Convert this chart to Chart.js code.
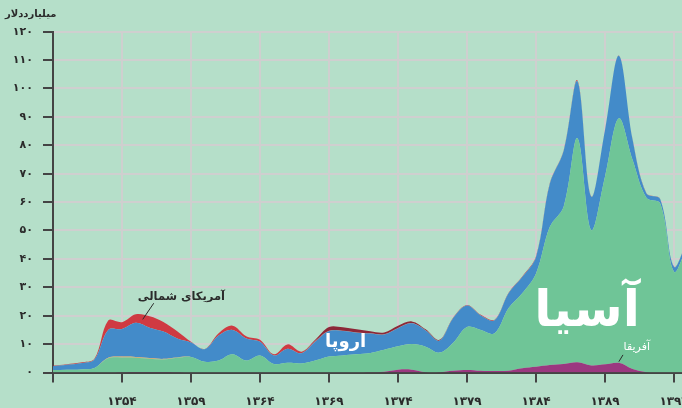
<!DOCTYPE html>
<html lang="fa">
<head>
<meta charset="utf-8">
<script src="https://cdn.jsdelivr.net/npm/chart.js@4.4.1/dist/chart.umd.min.js"></script>
<style>
  html, body { margin: 0; padding: 0; background: #b5dfc9; }
  #wrap { width: 682px; height: 408px; overflow: hidden; }
</style>
</head>
<body>
<div id="wrap"><canvas id="chart" width="720" height="408"></canvas></div>
<script>
// سال‌ها (هجری شمسی)
const years = [1349, 1350, 1351, 1352, 1353, 1354, 1355, 1356, 1357, 1358,
  1359, 1360, 1361, 1362, 1363, 1364, 1365, 1366, 1367, 1368,
  1369, 1370, 1371, 1372, 1373, 1374, 1375, 1376, 1377, 1378,
  1379, 1380, 1381, 1382, 1383, 1384, 1385, 1386, 1387, 1388,
  1389, 1390, 1391, 1392, 1393, 1394, 1395];

// میلیارد دلار، لایه‌ها روی هم
const africa = [0, 0, 0, 0, 0, 0.1, 0.2, 0.2, 0.2, 0.1,
  0, 0, 0, 0, 0, 0, 0, 0, 0, 0,
  0, 0, 0, 0.1, 0.3, 1.0, 1.0, 0.1, 0.1, 0.6,
  0.9, 0.6, 0.5, 0.6, 1.5, 2.0, 2.6, 3.0, 3.6, 2.5,
  2.9, 3.4, 1.2, 0.1, 0, 0, 0];
const asia = [0.9, 1.0, 1.1, 1.6, 5.0, 5.2, 5.0, 4.6, 4.4, 5.1,
  5.5, 3.8, 4.2, 6.4, 4.2, 6.0, 3.0, 3.4, 3.2, 4.2,
  5.6, 6.0, 6.4, 6.8, 7.7, 8.2, 9.0, 9.0, 6.9, 9.9,
  15.1, 14.4, 13.3, 22.0, 26.4, 32.9, 48.7, 55.4, 78.9, 47.7,
  66.1, 86.1, 73.6, 61.4, 59.5, 35.5, 45.0];
const southAmerica = [0, 0, 0, 0, 0.2, 0.3, 0.3, 0.3, 0.2, 0.1,
  0, 0, 0, 0, 0, 0, 0, 0, 0, 0,
  0, 0, 0, 0, 0, 0, 0, 0, 0, 0,
  0, 0, 0, 0, 0, 0, 0, 0, 0, 0,
  0, 0, 0, 0, 0, 0, 0];
const europe = [1.3, 1.7, 2.2, 3.0, 9.8, 9.7, 12.0, 10.7, 9.6, 6.7,
  5.1, 4.4, 8.8, 8.6, 7.8, 4.8, 3.0, 5.0, 3.6, 6.6,
  9.0, 8.6, 7.6, 6.8, 5.4, 6.4, 7.3, 5.7, 4.2, 8.7,
  7.6, 5.1, 4.6, 5.2, 5.7, 5.8, 15.2, 19.6, 20.0, 11.8,
  16.4, 22.0, 7.1, 1.5, 1.5, 1.7, 2.0];
const northAmerica = [0.2, 0.2, 0.2, 0.2, 3.3, 2.4, 3.0, 4.0, 3.4, 2.5,
  0.2, 0.1, 0.8, 1.5, 0.8, 0.7, 0.4, 1.5, 0.5, 0.4,
  0.1, 0.1, 0.1, 0.1, 0.1, 0.1, 0.1, 0.1, 0.1, 0.2,
  0.2, 0.2, 0.2, 0.2, 0.2, 0.2, 0.2, 0.2, 0.3, 0.1,
  0.1, 0.1, 0.1, 0.1, 0.1, 0.1, 0.1];
const other = [0, 0, 0, 0, 0, 0, 0, 0, 0, 0,
  0, 0, 0, 0, 0, 0, 0, 0, 0, 0.3,
  1.3, 1.2, 1.1, 0.7, 0.6, 0.8, 0.6, 0.3, 0.2, 0,
  0, 0, 0, 0, 0, 0, 0, 0, 0, 0,
  0, 0, 0, 0, 0, 0, 0];

const yearTicks = [1349, 1354, 1359, 1364, 1369, 1374, 1379, 1384, 1389, 1394];
const unitLabel = 'میلیارددلار';

const faDigits = ['۰', '۱', '۲', '۳', '۴', '۵', '۶', '۷', '۸', '۹'];
function toFa(n) {
  return String(n).replace(/\d/g, d => faDigits[d]);
}

function series(vals) {
  return years.map((yr, i) => ({ x: yr, y: vals[i] }));
}

const FONT = '"DejaVu Sans", sans-serif';

// برچسب‌های روی نمودار
const notes = [
  { text: 'آسیا', x: 1387.7, y: 21.0, font: 'bold 50px ' + FONT, color: '#ffffff' },
  { text: 'اروپا', x: 1370.2, y: 10.6, font: 'bold 18px ' + FONT, color: '#ffffff' },
  { text: 'آمریکای شمالی', x: 1358.3, y: 26.6, font: 'bold 11.5px ' + FONT, color: '#2b2b2b' },
  { text: 'آفریقا', x: 1391.3, y: 9.0, font: '11px ' + FONT, color: '#ffffff' }
];
const leaders = [
  { from: [1356.3, 24.4], to: [1355.5, 18.7], color: '#2b2b2b' },
  { from: [1390.3, 6.2], to: [1390.0, 3.8], color: '#2b2b2b' }
];

const notesPlugin = {
  id: 'notes',
  afterDatasetsDraw(chart) {
    const ctx = chart.ctx;
    const sx = chart.scales.x, sy = chart.scales.y;
    ctx.save();
    leaders.forEach(l => {
      ctx.strokeStyle = l.color;
      ctx.lineWidth = 1;
      ctx.beginPath();
      ctx.moveTo(sx.getPixelForValue(l.from[0]), sy.getPixelForValue(l.from[1]));
      ctx.lineTo(sx.getPixelForValue(l.to[0]), sy.getPixelForValue(l.to[1]));
      ctx.stroke();
    });
    ctx.textAlign = 'center';
    ctx.textBaseline = 'middle';
    notes.forEach(n => {
      ctx.font = n.font;
      ctx.fillStyle = n.color;
      ctx.fillText(n.text, sx.getPixelForValue(n.x), sy.getPixelForValue(n.y));
    });
    ctx.restore();
  }
};

function layer(label, vals, color, fill) {
  return {
    label: label,
    data: series(vals),
    backgroundColor: color,
    borderColor: color,
    borderWidth: 0,
    pointRadius: 0,
    fill: fill,
    tension: 0.35
  };
}

const config = {
  type: 'line',
  data: {
    datasets: [
      layer('آفریقا', africa, '#9b3880', 'origin'),
      layer('آسیا', asia, '#6fc597', '-1'),
      layer('آمریکای جنوبی', southAmerica, '#e6a064', '-1'),
      layer('اروپا', europe, '#438bc9', '-1'),
      layer('آمریکای شمالی', northAmerica, '#cf3a42', '-1'),
      layer('سایر', other, '#8c2838', '-1')
    ]
  },
  options: {
    responsive: false,
    animation: false,
    layout: { padding: { left: 5, right: 0, top: 0, bottom: 0 } },
    plugins: {
      legend: { display: false },
      tooltip: { enabled: false },
      title: {
        display: true,
        text: unitLabel,
        align: 'start',
        color: '#2b2b2b',
        font: { family: FONT, size: 10, weight: 'bold' },
        padding: { top: 8, bottom: 11.7 }
      }
    },
    scales: {
      x: {
        type: 'linear',
        min: 1349,
        max: 1397.33,
        afterFit: s => { s.height = 35.5; },
        afterBuildTicks: s => { s.ticks = yearTicks.map(v => ({ value: v })); },
        grid: { color: '#cfcfcf', lineWidth: 2, tickColor: '#444', tickWidth: 2, tickLength: 10 },
        border: { display: true, color: '#444', width: 2 },
        ticks: {
          color: '#2b2b2b',
          font: { family: FONT, size: 12, weight: 'bold' },
          padding: 12,
          maxRotation: 0,
          autoSkip: false,
          callback: v => (v === years[0] ? '' : toFa(v))
        }
      },
      y: {
        stacked: true,
        min: 0,
        max: 120,
        afterFit: s => { s.width = 48; },
        grid: { color: '#cfcfcf', lineWidth: 2, tickColor: '#444', tickWidth: 2, tickLength: 10 },
        border: { display: true, color: '#444', width: 2 },
        ticks: {
          stepSize: 10,
          color: '#2b2b2b',
          font: { family: FONT, size: 11, weight: 'bold' },
          padding: 10,
          callback: v => toFa(v)
        }
      }
    }
  },
  plugins: [notesPlugin]
};

var areaChart = new Chart(document.getElementById('chart'), config);
</script>
</body>
</html>
